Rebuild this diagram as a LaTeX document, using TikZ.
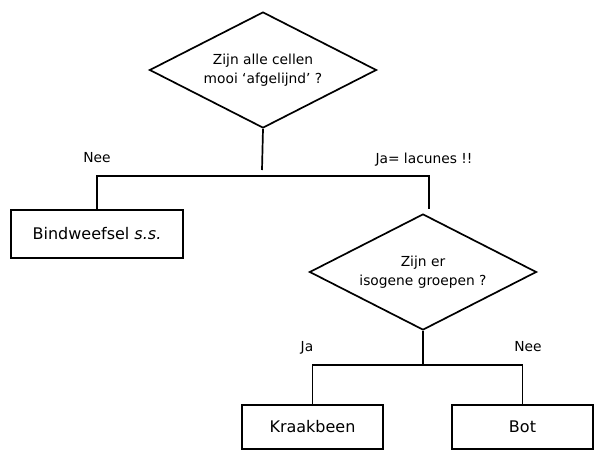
\documentclass[tikz,border=0pt]{standalone}
\usepackage{fontspec}
\setmainfont{DejaVu Sans}
\usetikzlibrary{shapes.geometric}

\begin{document}
\begin{tikzpicture}[x=1pt,y=-1pt,
  keuze/.style={draw, line width=1.7pt, diamond, aspect=1.95, minimum width=227pt, minimum height=116pt, inner sep=0pt, align=center, font=\fontsize{13.8}{19}\selectfont},
  blok/.style={draw, line width=1.7pt, rectangle, inner sep=0pt, font=\fontsize{16}{19}\selectfont},
  lijn/.style={line width=1.7pt},
  tekst/.style={font=\fontsize{13.8}{16}\selectfont}]

\useasboundingbox (0,0) rectangle (600,460);

% Eerste vraag
\node[keuze] (vraag1) at (263,70) {Zijn alle cellen\\mooi ‘afgelijnd’ ?};
\node[blok, minimum width=172pt, minimum height=48pt] (bind) at (97,234) {Bindweefsel \textit{s.s.}};

% Tweede vraag
\node[keuze] (vraag2) at (423,272) {Zijn er\\isogene groepen ?};
\node[blok, minimum width=141pt, minimum height=44pt] (kraak) at (312.5,427) {Kraakbeen};
\node[blok, minimum width=141pt, minimum height=44pt] (bot) at (522.5,427) {Bot};

% Vertakkingen
\coordinate (split1) at (262,176);
\coordinate (split2) at (423,365);
\draw[lijn] (vraag1.south) -- ([yshift=6pt]split1);
\draw[lijn] (bind.north) |- (split1) -| ([shift={(6pt,4pt)}]vraag2.north);
\draw[lijn] (vraag2.south) -- (split2);
\draw[lijn] (kraak.north) |- (split2) -| (bot.north);

% Antwoorden
\node[tekst] (nee1) at (97,158) {Nee};
\node[tekst] (ja1) at (424,160) {Ja= lacunes !!};
\node[tekst] (ja2) at (307,348) {Ja};
\node[tekst] (nee2) at (528,347) {Nee};

\end{tikzpicture}
\end{document}
